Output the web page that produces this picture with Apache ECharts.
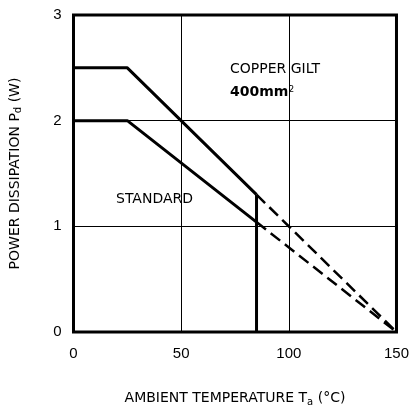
<!DOCTYPE html>
<html>
<head>
<meta charset="utf-8">
<script src="https://cdn.jsdelivr.net/npm/echarts@6/dist/echarts.min.js"></script>
<style>html,body{margin:0;padding:0;background:#fff}#c{width:412px;height:412px}</style>
</head>
<body>
<div id="c"></div>
<script>
// Data
const copperSolid = [[0, 2.5], [25, 2.5], [85, 1.3]];
const copperDash = [[85, 1.3], [150, 0]];
const standardSolid = [[0, 2.0], [25, 2.0], [85, 1.04]];
const standardDash = [[85, 1.04], [150, 0]];
const cutoffLine = [[85, 1.3], [85, 0]];
const xTicks = [0, 50, 100, 150];
const yTicks = [0, 1, 2, 3];

const chart = echarts.init(document.getElementById('c'));
const font = 'Liberation Sans, Arial, sans-serif';
const wide = 'DejaVu Sans, sans-serif';
const solid = (data) => ({
  type: 'line', data, symbol: 'none', animation: false,
  lineStyle: { color: '#000', width: 3 }
});
const dashed = (data) => ({
  type: 'line', data, symbol: 'none', animation: false,
  lineStyle: { color: '#000', width: 2.5, type: [12, 6] }
});
const subRich = { sub: { fontSize: 10, fontFamily: wide, color: '#000', verticalAlign: 'bottom', padding: [7, 0, 0, 0] } };
chart.setOption({
  backgroundColor: '#fff',
  animation: false,
  grid: { left: 72, right: 15, top: 15, bottom: 72, show: true, borderColor: '#000', borderWidth: 3 },
  xAxis: {
    type: 'value', min: 0, max: 150, interval: 50,
    axisLine: { show: false }, axisTick: { show: false },
    splitLine: { lineStyle: { color: '#000', width: 1 } },
    axisLabel: { color: '#000', fontSize: 15, fontFamily: font, margin: 14 },
    name: 'AMBIENT TEMPERATURE T{sub|a} (°C)',
    nameLocation: 'middle', nameGap: 58,
    nameTextStyle: { color: '#000', fontSize: 14, fontFamily: wide, rich: subRich }
  },
  yAxis: {
    type: 'value', min: 0, max: 3, interval: 1,
    axisLine: { show: false }, axisTick: { show: false },
    splitLine: { lineStyle: { color: '#000', width: 1 } },
    axisLabel: { color: '#000', fontSize: 15, fontFamily: font, margin: 12 },
    name: 'POWER DISSIPATION P{sub|d} (W)',
    nameLocation: 'middle', nameGap: 50,
    nameTextStyle: { color: '#000', fontSize: 14, fontFamily: wide, rich: subRich }
  },
  series: [
    solid(copperSolid), dashed(copperDash),
    solid(standardSolid), dashed(standardDash),
    solid(cutoffLine)
  ],
  graphic: [
    { type: 'text', left: 230, top: 62, style: { text: 'COPPER GILT', fontSize: 14, fontFamily: wide, fill: '#000' } },
    { type: 'text', left: 230, top: 85, style: { text: '{b|400mm}{s|2}', fontFamily: wide, fill: '#000',
      rich: { b: { fontSize: 14, fontWeight: 'bold', fontFamily: wide }, s: { fontSize: 9, fontFamily: wide, verticalAlign: 'top' } } } },
    { type: 'text', left: 116, top: 192, style: { text: 'STANDARD', fontSize: 14, fontFamily: wide, fill: '#000' } }
  ]
});
</script>
</body>
</html>
